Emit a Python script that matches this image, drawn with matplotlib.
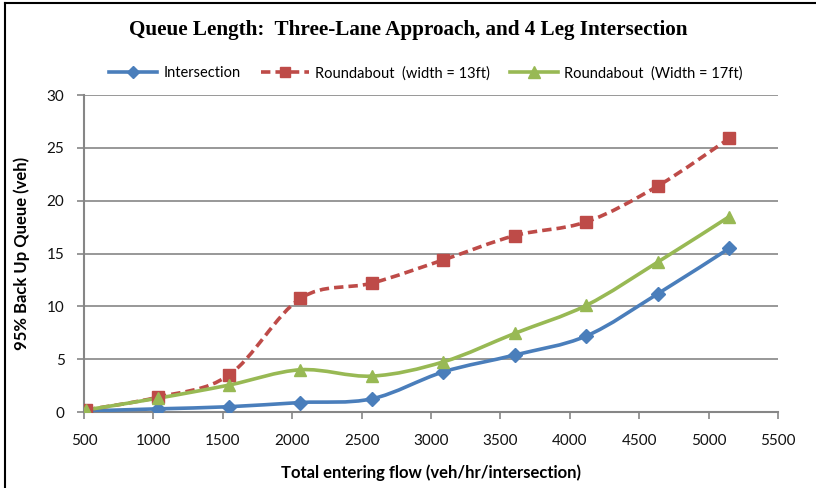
import numpy as np
import matplotlib.pyplot as plt
from matplotlib.path import Path
from matplotlib.patches import PathPatch
from matplotlib.lines import Line2D

plt.rcParams['font.family'] = ['Lato', 'DejaVu Sans']

# Data
flow = [515, 1030, 1545, 2060, 2575, 3090, 3605, 4120, 4635, 5150]
q_intersection = [0.1, 0.3, 0.5, 0.9, 1.25, 3.8, 5.4, 7.2, 11.2, 15.5]
q_round_13 = [0.2, 1.4, 3.5, 10.75, 12.2, 14.4, 16.7, 18.0, 21.4, 25.9]
q_round_17 = [0.2, 1.3, 2.55, 4.0, 3.4, 4.75, 7.45, 10.1, 14.2, 18.5]
labels = ["Intersection", "Roundabout  (width = 13ft)", "Roundabout  (Width = 17ft)"]

blue = "#4A7EBB"
red = "#BE4B48"
green = "#98B954"


def smooth_path(x, y):
    # Excel-style smoothed line: cubic Bezier segments through each point
    p = np.column_stack([x, y]).astype(float)
    n = len(p)
    verts = [p[0]]
    codes = [Path.MOVETO]
    for i in range(n - 1):
        p0 = p[i - 1] if i > 0 else p[i]
        p3 = p[i + 2] if i + 2 < n else p[i + 1]
        c1 = p[i] + (p[i + 1] - p0) / 6
        c2 = p[i + 1] - (p3 - p[i]) / 6
        verts += [c1, c2, p[i + 1]]
        codes += [Path.CURVE4] * 3
    return Path(verts, codes)


fig = plt.figure(figsize=(8.16, 4.88), dpi=100)
ax = fig.add_axes([0.1029, 0.1557, 0.8505, 0.6496])

series = [
    (q_intersection, blue, "D", 7, "-"),
    (q_round_13, red, "s", 8, (0, (2.6, 1.4))),
    (q_round_17, green, "^", 9, "-"),
]
handles = []
for (vals, col, mk, ms, ls), lab in zip(series, labels):
    patch = PathPatch(smooth_path(flow, vals), facecolor="none", edgecolor=col,
                      lw=2.6, linestyle=ls, zorder=3, capstyle="butt")
    ax.add_patch(patch)
    ax.plot(flow, vals, linestyle="none", marker=mk, ms=ms, color=col, zorder=4)
    handles.append(Line2D([], [], color=col, lw=2.6, linestyle=ls, marker=mk, ms=ms - 1))

ax.set_xlim(500, 5500)
ax.set_ylim(0, 30)
ax.set_xticks(np.arange(500, 5501, 500))
ax.set_yticks(np.arange(0, 31, 5))
ax.grid(axis="y", color="#868686", lw=1.2)
ax.set_axisbelow(True)
for s in ["top", "right"]:
    ax.spines[s].set_visible(False)
for s in ["left", "bottom"]:
    ax.spines[s].set_color("#868686")
    ax.spines[s].set_linewidth(1.5)
ax.tick_params(axis="both", color="#868686", width=1.2, length=5, labelsize=11,
               labelcolor="#111111")
ax.tick_params(axis="x", pad=11)
ax.tick_params(axis="y", pad=9)

ax.set_xlabel("Total entering flow (veh/hr/intersection)", fontsize=12,
              fontweight="bold", labelpad=12)
ax.set_ylabel("95% Back Up Queue (veh)", fontsize=12, fontweight="bold", labelpad=12)

fig.text(0.5, 0.938, "Queue Length:  Three-Lane Approach, and 4 Leg Intersection",
         ha="center", va="center", fontsize=15.2, fontweight="bold",
         family="Liberation Serif")

fig.legend(handles, labels, loc="center", bbox_to_anchor=(0.522, 0.85), ncol=3,
           frameon=False, fontsize=10.5, handlelength=3.3, columnspacing=1.4,
           handletextpad=0.4)

# chart border (left and top edges)
fig.add_artist(Line2D([0.006, 0.006], [0, 0.994], color="black", lw=1.5))
fig.add_artist(Line2D([0.006, 1.0], [0.994, 0.994], color="black", lw=1.5))

fig.savefig("out.png", dpi=100)
